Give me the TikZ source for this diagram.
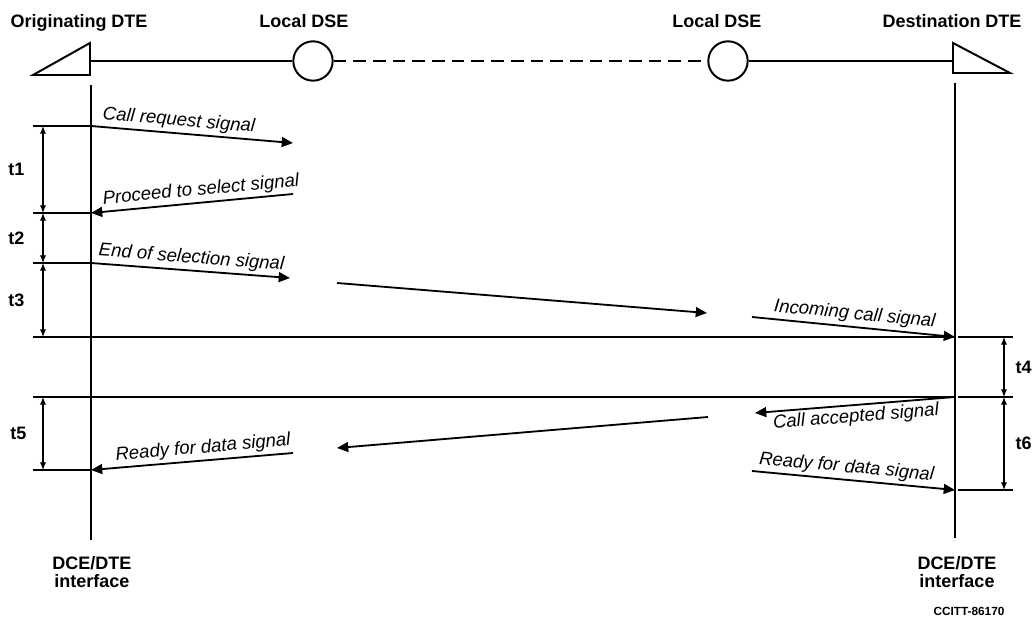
\documentclass[tikz,border=0pt]{standalone}
\usepackage{fontspec}
\setmainfont{Liberation Sans}
\usetikzlibrary{arrows.meta}
\tikzset{
  station/.style={line width=1.4pt},
  dse/.style={circle,draw,line width=1.4pt,minimum size=28pt,inner sep=0pt},
  life/.style={line width=1.6pt},
  msg/.style={line width=1.3pt,-{Triangle[length=8pt,width=7pt]}},
  msgback/.style={line width=1.3pt,{Triangle[length=8pt,width=7pt]}-},
  tick/.style={line width=0.9pt},
  dim/.style={line width=0.8pt,{Latex[length=5.5pt,width=4.5pt]}-{Latex[length=5.5pt,width=4.5pt]}},
  title/.style={font=\fontsize{12.8}{15}\selectfont\bfseries,anchor=base},
  sig/.style={font=\fontsize{13.2}{15}\selectfont\itshape,inner sep=2pt},
  tlab/.style={font=\fontsize{12.8}{15}\selectfont\bfseries},
  iface/.style={font=\fontsize{12.8}{12.5}\selectfont\bfseries,align=center},
}
\begin{document}
\begin{tikzpicture}[x=0.025cm,y=-0.025cm]
\useasboundingbox (0,0) rectangle (1035,630);
% titles
\node[title] (orig) at (79,28) {Originating DTE};
\node[title] (dseA) at (304,28) {Local DSE};
\node[title] (dseB) at (717,28) {Local DSE};
\node[title] (dest) at (952,28) {Destination DTE};
% stations
\node[dse] (cA) at (313,61) {};
\node[dse] (cB) at (728,61) {};
\coordinate (triA) at (90,61);
\coordinate (triB) at (953,61);
\draw[station] (33,75) -- (90,43) -- (90,75) -- cycle;
\draw[station] (953,43) -- (1010,73) -- (953,73) -- cycle;
\draw[station] (triA) -- (cA);
\draw[station,dash pattern=on 9pt off 5pt] (cA) -- (cB);
\draw[station] (cB) -- (triB);
% interfaces
\coordinate (lt) at (91,85);
\coordinate (lb) at (91,540);
\coordinate (rt) at (955,83);
\coordinate (rb) at (955,538);
\draw[life] (lt) -- (lb);
\draw[life] (rt) -- (rb);
\foreach \y in {126,213,263,337,397,470} {
  \coordinate (l\y) at (91,\y);
  \coordinate (dl\y) at (43,\y);
  \draw[tick] (33,\y) -- (l\y);
}
\foreach \y in {337,397,490} {
  \coordinate (r\y) at (955,\y);
  \coordinate (dr\y) at (1004,\y);
  \draw[tick] (958,\y) -- (1013,\y);
}
% ends at the exchanges
\coordinate (a1) at (293,143);
\coordinate (a2) at (293,194);
\coordinate (a3) at (290,278);
\coordinate (m1) at (337,283);
\coordinate (m2) at (707,313);
\coordinate (b4) at (752,317);
\coordinate (b5) at (755,413);
\coordinate (m3) at (708,417);
\coordinate (m4) at (337,448);
\coordinate (a6) at (293,453);
\coordinate (b6) at (752,471);
% signals
\draw[msg] (l126) -- node[sig,above,sloped,pos=0.43] {Call request signal} (a1);
\draw[msgback] (l213) -- node[sig,above,sloped,pos=0.55] {Proceed to select signal} (a2);
\draw[msg] (l263) -- node[sig,above,sloped] {End of selection signal} (a3);
\draw[msg] (m1) -- (m2);
\draw[msg] (b4) -- node[sig,above,sloped] {Incoming call signal} (r337);
\draw[line width=1.3pt] (l337) -- (r337);
\draw[line width=1.3pt] (l397) -- (r397);
\draw[msgback] (b5) -- node[sig,below,sloped] {Call accepted signal} (r397);
\draw[msgback] (m4) -- (m3);
\draw[msgback] (l470) -- node[sig,above,sloped,pos=0.56] {Ready for data signal} (a6);
\draw[msg] (b6) -- node[sig,above,sloped,pos=0.46] {Ready for data signal} (r490);
% times
\draw[dim] (dl126) -- node[tlab,left=9.5pt] (t1) {t1} (dl213);
\draw[dim] (dl213) -- node[tlab,left=9.5pt] (t2) {t2} (dl263);
\draw[dim] (dl263) -- node[tlab,left=9.5pt] (t3) {t3} (dl337);
\draw[dim] (dl397) -- node[tlab,left=8pt] (t5) {t5} (dl470);
\draw[dim] (dr337) -- node[tlab,right=4.5pt] (t4) {t4} (dr397);
\draw[dim] (dr397) -- node[tlab,right=4.5pt] (t6) {t6} (dr490);
% bottom
\node[iface] (ifA) at (92,572) {DCE/DTE\\interface};
\node[iface] (ifB) at (957,572) {DCE/DTE\\interface};
\node[font=\fontsize{8.4}{10}\selectfont\bfseries] (code) at (969,611) {CCITT-86170};
\end{tikzpicture}
\end{document}
